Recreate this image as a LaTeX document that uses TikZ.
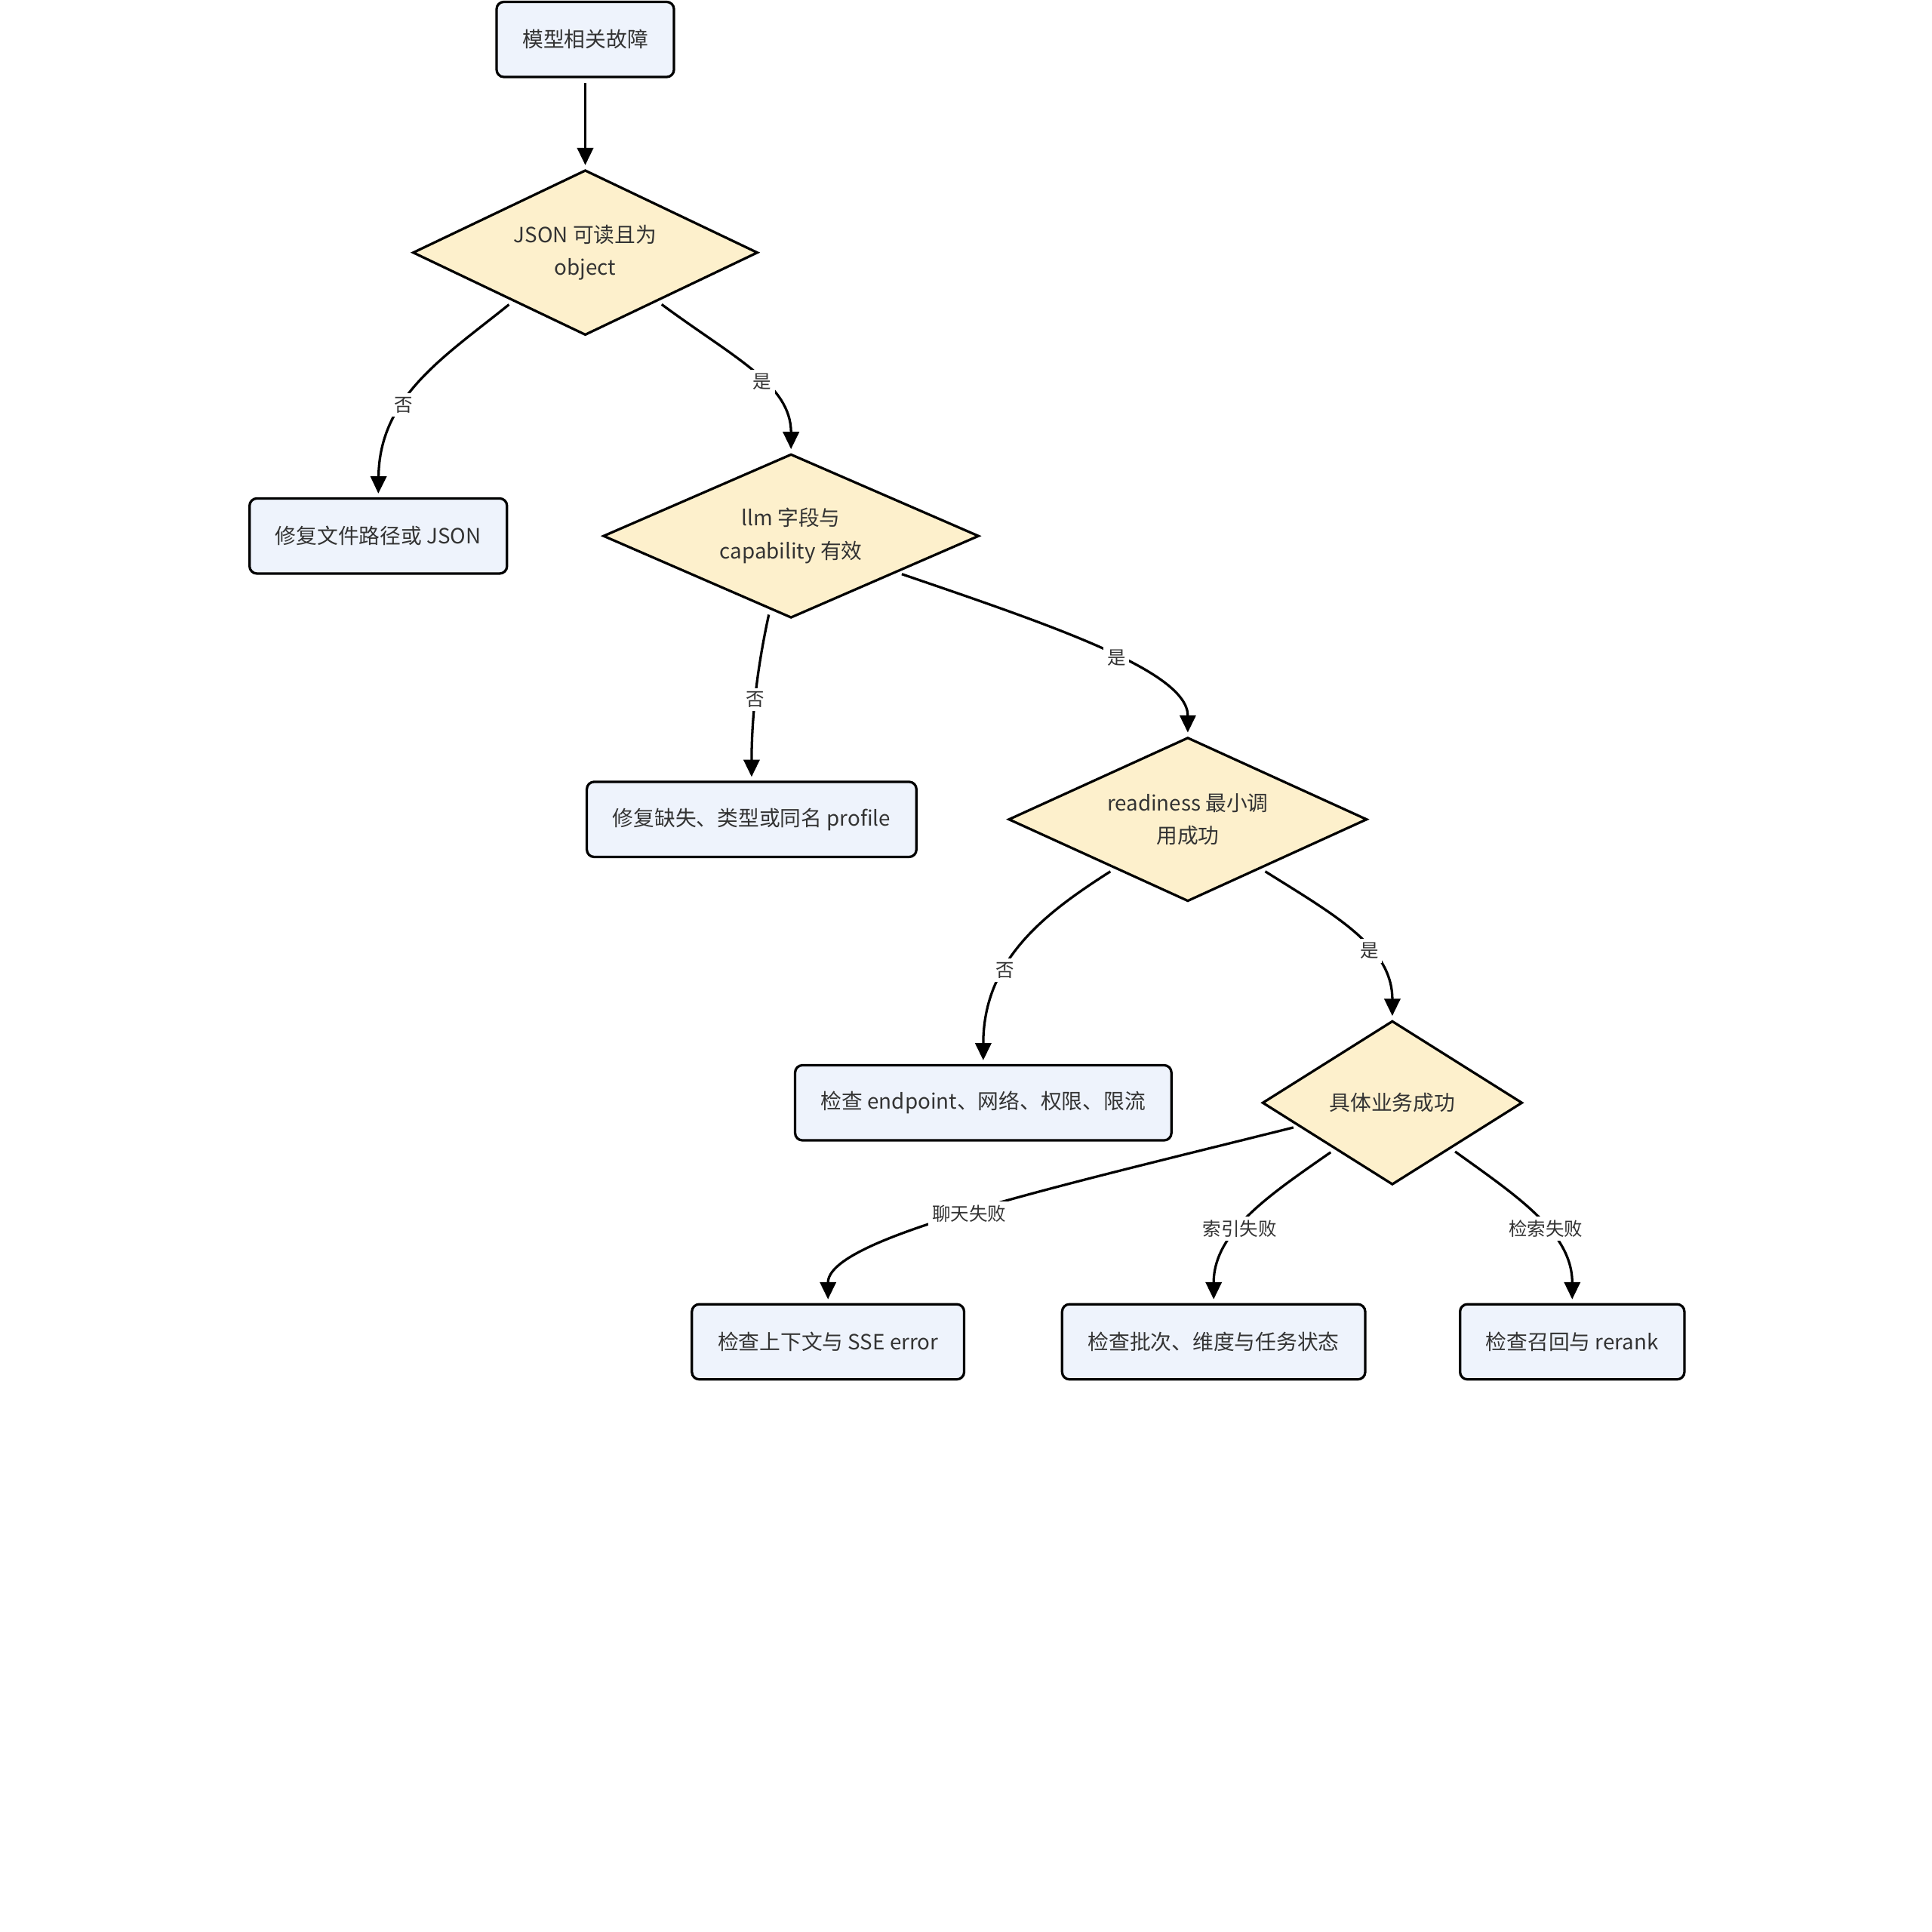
\documentclass[tikz,border=0pt]{standalone}
\usepackage{fontspec}
\setmainfont{Noto Sans CJK SC}
\usetikzlibrary{shapes.geometric,arrows.meta}
\definecolor{boxfill}{HTML}{EEF3FC}
\definecolor{decfill}{HTML}{FDF0CC}
\definecolor{txt}{HTML}{333333}

\begin{document}
\begin{tikzpicture}[x=1pt,y=-1pt,
  box/.style={draw,line width=2pt,rounded corners=6pt,fill=boxfill,text=txt,minimum height=61pt,inner xsep=21pt,font=\fontsize{17}{20}\selectfont},
  dec/.style={draw,line width=2pt,diamond,aspect=2,inner sep=0pt,fill=decfill,text=txt,align=center,font=\fontsize{17}{25}\selectfont},
  arr/.style={line width=2pt,-{Triangle[length=14pt,width=13pt]},shorten <=4pt,shorten >=3pt},
  lbl/.style={fill=white,text=txt,inner sep=3pt,font=\fontsize{15}{17}\selectfont}]
\useasboundingbox (0,0) rectangle (1568,1568);

\node[box] (fault) at (475,32) {模型相关故障};
\node[dec,minimum width=280pt,minimum height=134pt] (json) at (475,205) {\raisebox{-6pt}{\shortstack{JSON 可读且为\\[8pt]object}}};
\node[box] (fixjson) at (307,435) {修复文件路径或 JSON};
\node[dec,minimum width=305pt,minimum height=133pt] (llm) at (642,435) {\raisebox{-6pt}{\shortstack{llm 字段与\\[8pt]capability 有效}}};
\node[box] (fixprof) at (610,665) {修复缺失、类型或同名 profile};
\node[dec,minimum width=291pt,minimum height=133pt] (ready) at (964,665) {\raisebox{-6pt}{\shortstack{readiness 最小调\\[8pt]用成功}}};
\node[box] (chknet) at (798,895) {检查 endpoint、网络、权限、限流};
\node[dec,minimum width=211pt,minimum height=133pt] (biz) at (1130,895) {具体业务成功};
\node[box] (chkchat) at (672,1089) {检查上下文与 SSE error};
\node[box] (chkidx) at (985,1089) {检查批次、维度与任务状态};
\node[box] (chkret) at (1276,1089) {检查召回与 rerank};

\draw[arr] (fault) -- (json);
\draw[arr] (json.214) .. controls (360,290) and (308,322) .. node[lbl,pos=.62] (no1) {否} (fixjson.north);
\draw[arr] (json.326) .. controls (595,290) and (642,312) .. node[lbl,pos=.57] (yes1) {是} (llm.north);
\draw[arr] (llm.254) .. controls (615,540) and (610,580) .. node[lbl,pos=.55] (no2) {否} (fixprof.north);
\draw[arr] (llm.341) .. controls (855,508) and (964,545) .. node[lbl,pos=.55] (yes2) {是} (ready.north);
\draw[arr] (ready.214) .. controls (850,740) and (798,778) .. node[lbl,pos=.64] (no3) {否} (chknet.north);
\draw[arr] (ready.326) .. controls (1082,742) and (1130,768) .. node[lbl,pos=.62] (yes3) {是} (biz.north);
\draw[arr] (biz.194) .. controls (850,965) and (672,1005) .. node[lbl,pos=.5] (chat) {聊天失败} (chkchat.north);
\draw[arr] (biz.219) .. controls (1030,970) and (985,1000) .. node[lbl,pos=.58] (idx) {索引失败} (chkidx.north);
\draw[arr] (biz.322) .. controls (1230,970) and (1276,1000) .. node[lbl,pos=.58] (ret) {检索失败} (chkret.north);

\end{tikzpicture}
\end{document}
